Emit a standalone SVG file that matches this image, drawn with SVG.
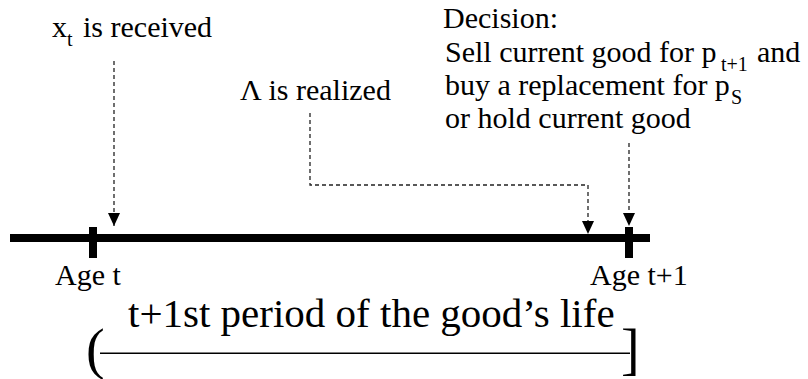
<svg xmlns="http://www.w3.org/2000/svg" width="808" height="379" viewBox="0 0 808 379">
<style>
text{font-family:"Liberation Serif","Times New Roman",serif;fill:#000}
.lbl{font-size:30px}
.sub{font-size:20px}
.big{font-size:41px}
.brk{font-size:56px}
.bar{fill:#000}
.dash{fill:none;stroke:#222;stroke-width:1.3;stroke-dasharray:4 3;marker-end:url(#ah)}
</style>
<defs>
<marker id="ah" markerUnits="userSpaceOnUse" markerWidth="13" markerHeight="12" refX="13" refY="6" orient="auto" viewBox="0 0 13 12">
<path d="M0,0 L13,6 L0,12 z" fill="#000"/>
</marker>
</defs>
<rect width="808" height="379" fill="#fff"/>
<g id="timeline">
<rect class="bar" x="10" y="234" width="640" height="8"/>
</g>
<g id="age-t">
<rect class="bar" x="89" y="227" width="8" height="31"/>
<text class="lbl" x="55" y="285">Age t</text>
</g>
<g id="age-t1">
<rect class="bar" x="625" y="227" width="8" height="31"/>
<text class="lbl" x="590" y="285">Age t+1</text>
</g>
<g id="xt-received">
<text class="lbl" x="52" y="37">x</text>
<text class="sub" x="67" y="46">t</text>
<text class="lbl" x="83" y="37">is received</text>
</g>
<g id="lambda-realized">
<text class="lbl" x="240" y="100">&#923; is realized</text>
</g>
<g id="decision">
<text class="lbl" x="443" y="28">Decision:</text>
<text class="lbl" x="445" y="61.5">Sell current good for p</text>
<text class="sub" x="721" y="71">t+1</text>
<text class="lbl" x="757" y="61.5">and</text>
<text class="lbl" x="445" y="95">buy a replacement for p</text>
<text class="sub" x="731" y="104">S</text>
<text class="lbl" x="445" y="128">or hold current good</text>
</g>
<g id="period">
<text class="big" x="128" y="327">t+1st period of the good&#8217;s life</text>
<text class="brk" x="86" y="368">(</text>
<line x1="100" y1="353.3" x2="630" y2="353.3" stroke="#000" stroke-width="1.5"/>
<text class="brk" x="621" y="368">]</text>
</g>
<g id="connectors">
<path class="dash" d="M114,61 V226"/>
<path class="dash" d="M310,113 V185 H588 V234"/>
<path class="dash" d="M629,143 V226"/>
</g>
</svg>
